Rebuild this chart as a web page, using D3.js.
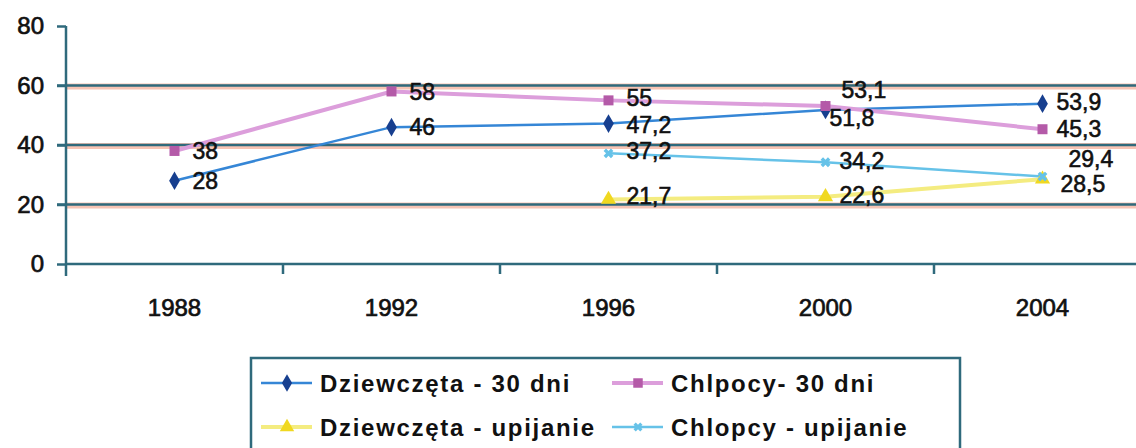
<!DOCTYPE html>
<html>
<head>
    <meta charset="utf-8">
    <title>Picie alkoholu</title>
    <style>
        body { margin: 0; background: #fff; }
        text { font-family: "Liberation Sans", Arial, sans-serif; fill: #111; }
    </style>
    <script src="https://d3js.org/d3.v7.min.js"></script>
</head>
<body>
<script type="text/javascript">

    // data
    var years = ['1988', '1992', '1996', '2000', '2004'];
    var yTicks = [0, 20, 40, 60, 80];
    var girls30 = [28, 46, 47.2, 51.8, 53.9];
    var boys30 = [38, 58, 55, 53.1, 45.3];
    var girlsDrunk = [null, null, 21.7, 22.6, 28.5];
    var boysDrunk = [null, null, 37.2, 34.2, 29.4];

    var series = [
        {name: 'Dziewczęta - 30 dni', values: girls30, line: '#3586d6', mark: '#173f8f', shape: d3.symbolDiamond, lw: 2.5},
        {name: 'Chlpocy- 30 dni', values: boys30, line: '#dc9edb', mark: '#b45aa8', shape: d3.symbolSquare, lw: 4},
        {name: 'Dziewczęta - upijanie', values: girlsDrunk, line: '#f4ec80', mark: '#f0d820', shape: d3.symbolTriangle, lw: 4},
        {name: 'Chlopcy - upijanie', values: boysDrunk, line: '#66c2e8', mark: '#66c2e8', shape: d3.symbolCross, lw: 2.5}
    ];
    // label nudges "series-year" -> [dx, dy]
    var nudge = {'1-3': [16, -16], '0-3': [4, 8], '3-4': [26, -18], '2-4': [18, 5],
                 '1-4': [14, -1], '0-4': [14, -2], '3-2': [18, -3], '2-2': [18, -4],
                 '1-2': [18, -3], '0-2': [18, 1], '3-3': [14, -2], '2-3': [14, -2]};

    var W = 1136, H = 448;
    var svg = d3.select('body').append('svg')
        .attr('width', W)
        .attr('height', H);

    var x = d3.scaleBand().domain(years).range([66, 1151]);
    var y = d3.scaleLinear().domain([0, 80]).range([264, 26]);
    var cx = function(i) { return x(years[i]) + x.bandwidth() / 2; };

    // gridlines
    var grid = svg.append('g');
    [20, 40, 60].forEach(function(v) {
        grid.append('line').attr('x1', 66).attr('x2', W)
            .attr('y1', y(v) + 1).attr('y2', y(v) + 1)
            .attr('stroke', '#f7c4b4').attr('stroke-width', 6);
        grid.append('line').attr('x1', 57).attr('x2', W)
            .attr('y1', y(v)).attr('y2', y(v))
            .attr('stroke', '#2f6a7c').attr('stroke-width', 2.5);
    });

    // y axis
    var yAxis = svg.append('g').attr('transform', 'translate(66,0)')
        .call(d3.axisLeft(y).tickValues(yTicks).tickSize(9).tickPadding(13));
    yAxis.select('.domain').remove();
    yAxis.append('line').attr('x1', 0).attr('x2', 0).attr('y1', y(80)).attr('y2', y(0) + 12)
        .attr('stroke', '#2f6a7c').attr('stroke-width', 2.5);
    yAxis.selectAll('.tick line').attr('stroke', '#2f6a7c').attr('stroke-width', 2.5);
    yAxis.selectAll('.tick text').attr('font-size', 24).attr('fill', '#111')
        .attr('stroke', '#111').attr('stroke-width', 0.7)
        .attr('font-family', '"Liberation Sans", Arial, sans-serif');

    // x axis
    var xAxis = svg.append('g').attr('transform', 'translate(0,' + y(0) + ')')
        .call(d3.axisBottom(x).tickSize(0).tickPadding(35));
    xAxis.select('.domain').remove();
    xAxis.append('line').attr('x1', 66).attr('x2', W).attr('y1', 0).attr('y2', 0)
        .attr('stroke', '#2f6a7c').attr('stroke-width', 2.5);
    xAxis.selectAll('.tick text').attr('font-size', 24).attr('fill', '#111')
        .attr('stroke', '#111').attr('stroke-width', 0.7)
        .attr('font-family', '"Liberation Sans", Arial, sans-serif');
    xAxis.selectAll('.sep').data(years.slice(1))
        .enter().append('line')
        .attr('x1', function(d) { return x(d); })
        .attr('x2', function(d) { return x(d); })
        .attr('y1', 0).attr('y2', 10)
        .attr('stroke', '#2f6a7c').attr('stroke-width', 2.5);

    // lines
    var line = d3.line()
        .defined(function(d) { return d != null; })
        .x(function(d, i) { return cx(i); })
        .y(function(d) { return y(d); });

    series.forEach(function(s) {
        svg.append('path').datum(s.values)
            .attr('d', line)
            .attr('fill', 'none')
            .attr('stroke', s.line)
            .attr('stroke-width', s.lw);
    });

    series.forEach(function(s, si) {
        var pts = s.values.map(function(v, i) { return {v: v, i: i}; })
            .filter(function(d) { return d.v != null; });
        var g = svg.append('g');
        g.selectAll('path').data(pts).enter().append('path')
            .attr('d', d3.symbol().type(s.shape).size(si == 3 ? 60 : 100))
            .attr('transform', function(d) {
                return 'translate(' + cx(d.i) + ',' + y(d.v) + ')' + (si == 3 ? ' rotate(45)' : '');
            })
            .attr('fill', s.mark);
        g.selectAll('text').data(pts).enter().append('text')
            .attr('x', function(d) { return cx(d.i) + (nudge[si + '-' + d.i] || [18, 0])[0]; })
            .attr('y', function(d) { return y(d.v) + (nudge[si + '-' + d.i] || [18, 0])[1]; })
            .attr('dy', '0.36em')
            .attr('font-size', 23)
            .attr('stroke', '#111').attr('stroke-width', 0.6)
            .text(function(d) { return String(d.v).replace('.', ','); });
    });

    // legend
    var leg = svg.append('g').attr('transform', 'translate(251,358)');
    leg.append('rect').attr('x', 0).attr('y', 0).attr('width', 709).attr('height', 100)
        .attr('fill', '#fff').attr('stroke', '#2f6a7c').attr('stroke-width', 2.5);
    series.forEach(function(s, si) {
        var col = si % 2, row = Math.floor(si / 2);
        var gx = col == 0 ? 10 : 361, gy = row == 0 ? 25 : 69;
        var it = leg.append('g').attr('transform', 'translate(' + gx + ',' + gy + ')');
        it.append('line').attr('x1', 0).attr('x2', 51).attr('y1', 0).attr('y2', 0)
            .attr('stroke', s.line).attr('stroke-width', s.lw);
        it.append('path')
            .attr('d', d3.symbol().type(s.shape).size(si == 3 ? 50 : 90))
            .attr('transform', 'translate(26,0)' + (si == 3 ? ' rotate(45)' : ''))
            .attr('fill', s.mark);
        it.append('text').attr('x', 59).attr('dy', '0.36em')
            .attr('font-size', 24).attr('font-weight', 'bold')
            .attr('letter-spacing', 1.7)
            .text(s.name);
    });

</script>
</body>
</html>
